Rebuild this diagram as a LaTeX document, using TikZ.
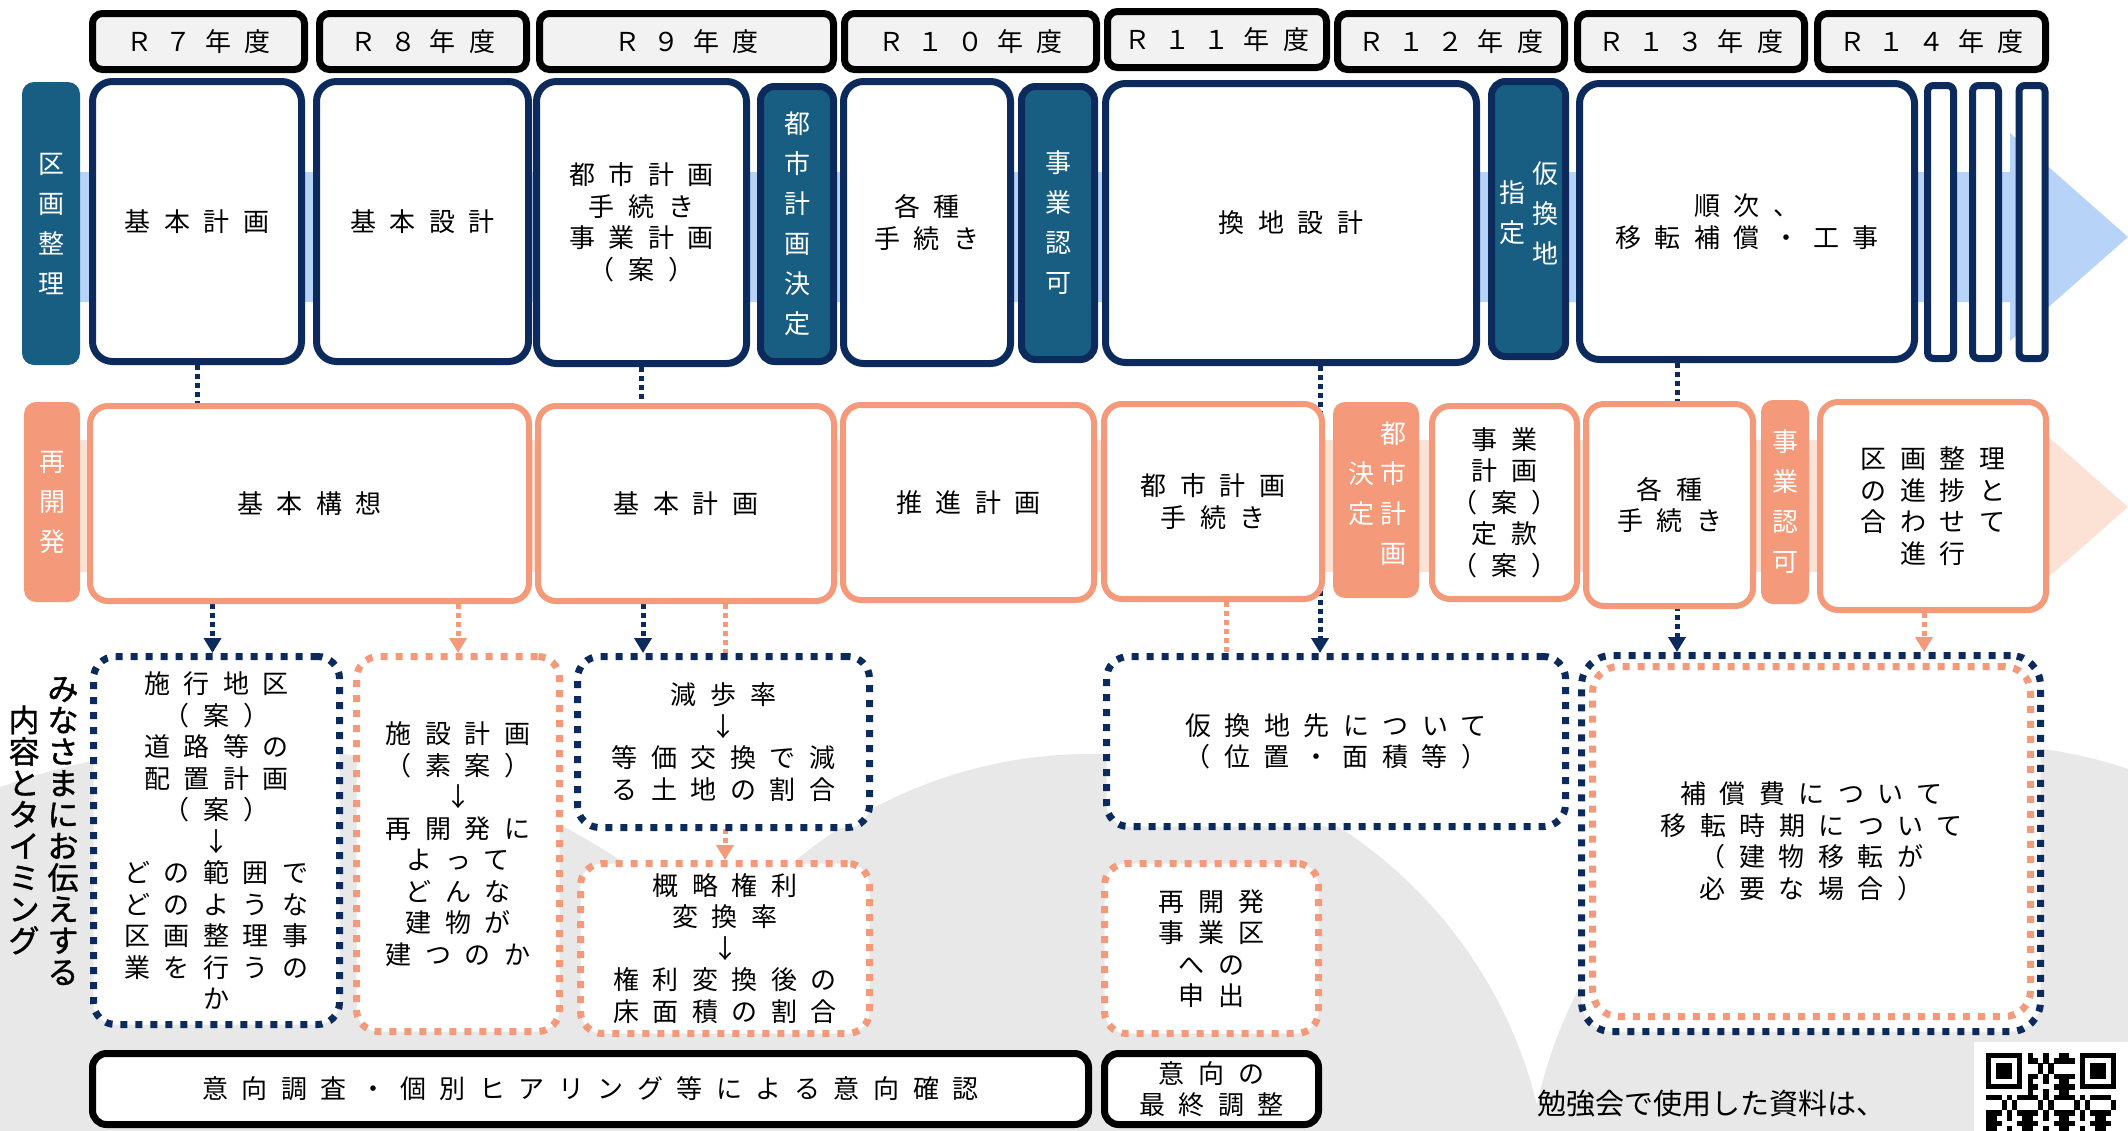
\documentclass[tikz,border=0pt]{standalone}
\usepackage{fontspec}
\usepackage{tikz}
\usetikzlibrary{arrows.meta,positioning}
\newfontfamily\jp[LetterSpace=52]{Noto Sans CJK JP}
\newfontfamily\jpflat{Noto Sans CJK JP}
\newfontfamily\jpheavy[FakeBold=1.2]{Noto Sans CJK JP}
\newcommand\bodyfont{\jp\fontsize{26}{31.5}\selectfont}
\newcommand\tatefont{\jpflat\fontsize{26}{40}\selectfont}
\newcommand\notefont{\jpflat\fontsize{29}{34}\selectfont}
\newcommand\headfont{\jpheavy\fontsize{31}{31.5}\selectfont}
\definecolor{navy}{RGB}{12, 42, 92}
\definecolor{kteal}{RGB}{24, 94, 130}
\definecolor{salmon}{RGB}{244, 153, 122}
\definecolor{skyband}{RGB}{183, 211, 247}
\definecolor{peachband}{RGB}{251, 226, 212}
\definecolor{headgrey}{RGB}{242, 242, 242}
\definecolor{bggrey}{RGB}{232, 232, 232}
\tikzstyle{year} = [draw=black, line width=7pt, fill=headgrey, rounded corners=10pt, font=\bodyfont, minimum height=56pt]
\tikzstyle{kbox} = [draw=navy, line width=7pt, fill=white, rounded corners=20pt, font=\bodyfont, align=center]
\tikzstyle{kmile} = [draw=navy, line width=7pt, fill=kteal, rounded corners=14pt, text=white, font=\tatefont, align=center]
\tikzstyle{klab} = [fill=kteal, rounded corners=12pt, text=white, font=\tatefont, align=center]
\tikzstyle{sbox} = [draw=salmon, line width=6pt, fill=white, rounded corners=18pt, font=\bodyfont, align=center]
\tikzstyle{smile} = [fill=salmon, rounded corners=12pt, text=white, font=\tatefont, align=center]
\tikzstyle{tatetext} = [text=white, font=\tatefont, align=center, inner sep=0pt]
\tikzstyle{ndot} = [draw=navy, line width=7pt, dash pattern=on 7pt off 8pt, fill=white, rounded corners=22pt, font=\bodyfont, align=center]
\tikzstyle{odot} = [draw=salmon, line width=7pt, dash pattern=on 7pt off 8pt, fill=white, rounded corners=22pt, font=\bodyfont, align=center]
\tikzstyle{talk} = [draw=black, line width=7pt, fill=white, rounded corners=14pt, font=\bodyfont, align=center]
\tikzstyle{nlink} = [draw=navy, line width=5pt, dash pattern=on 5pt off 4pt]
\tikzstyle{olink} = [draw=salmon, line width=5pt, dash pattern=on 5pt off 4pt]
\tikzstyle{narrow} = [nlink, -{Triangle[length=15pt,width=17pt]}]
\tikzstyle{oarrow} = [olink, -{Triangle[length=15pt,width=17pt]}]
\pgfdeclarelayer{links}
\pgfsetlayers{links,main}

\begin{document}
\begin{tikzpicture}[x=1pt,y=-1pt]
\useasboundingbox (0,0) rectangle (2128,1130);
\clip (0,0) rectangle (2128,1130);

% background =============================
\fill[bggrey] (237,1446) circle (700pt);
\fill[bggrey] (1090,1214) circle (460pt);
\fill[bggrey] (1982,1200) circle (455pt);
\fill[skyband] (60,172) -- (2010,172) -- (2010,133) -- (2128,237) -- (2010,341) -- (2010,302) -- (60,302) -- cycle;
\fill[peachband] (60,440) -- (2010,440) -- (2010,403) -- (2128,507) -- (2010,611) -- (2010,572) -- (60,572) -- cycle;

% years
\node[year, minimum width=212pt] (r7) at (198.5,41.5) {Ｒ７年度};
\node[year, minimum width=207pt] (r8) at (423,41.5) {Ｒ８年度};
\node[year, minimum width=294pt] (r9) at (686.5,41.5) {Ｒ９年度};
\node[year, minimum width=252pt] (r10) at (970.5,41.5) {Ｒ１０年度};
\node[year, minimum width=219pt] (r11) at (1217,39.5) {Ｒ１１年度};
\node[year, minimum width=227pt] (r12) at (1451,41.5) {Ｒ１２年度};
\node[year, minimum width=227pt] (r13) at (1691,41.5) {Ｒ１３年度};
\node[year, minimum width=228pt] (r14) at (1931.5,41.5) {Ｒ１４年度};

% kukaku seiri row
\node[klab, minimum width=58pt, minimum height=283pt] (kukakulab) at (51,223.5) {区\\画\\整\\理};
\node[kbox, minimum width=209pt, minimum height=280pt] (kkeikaku) at (197,221.5) {基本計画};
\node[kbox, minimum width=212pt, minimum height=280pt] (ksekkei) at (422.5,221.5) {基本設計};
\node[kbox, minimum width=210pt, minimum height=282pt] (toshitetsu) at (641.5,222.5) {都市計画\\手続き\\事業計画\\（案）};
\node[kmile, minimum width=73pt, minimum height=275pt] (tkettei) at (797,224) {都\\市\\計\\画\\決\\定};
\node[kbox, minimum width=167pt, minimum height=282pt] (kakushu) at (927,222.5) {各種\\手続き};
\node[kmile, minimum width=73pt, minimum height=273pt] (ninka) at (1058,223) {事\\業\\認\\可};
\node[kbox, minimum width=371pt, minimum height=279pt] (kanchi) at (1291,223) {換地設計};
\node[kmile, minimum width=74pt, minimum height=275pt] (shitei) at (1528.5,219) {};
\node[tatetext] (shitei-a) at (1545,213) {仮\\換\\地};
\node[tatetext] (shitei-b) at (1512,213) {指\\定};
\node[kbox, minimum width=335pt, minimum height=276pt] (junji) at (1747,221.5) {順次、\\移転補償・工事};
\node[kbox, rounded corners=6pt, minimum width=26pt, minimum height=273pt] (thinA) at (1940.5,222) {};
\node[kbox, rounded corners=6pt, minimum width=26pt, minimum height=273pt] (thinB) at (1985.5,222) {};
\node[kbox, rounded corners=6pt, minimum width=26pt, minimum height=273pt] (thinC) at (2032,222) {};

% saikaihatsu row
\node[smile, minimum width=56pt, minimum height=200pt] (saikailab) at (52,502) {再\\開\\発};
\node[sbox, minimum width=439pt, minimum height=195pt] (kousou) at (309.5,503.5) {基本構想};
\node[sbox, minimum width=296pt, minimum height=195pt] (skeikaku) at (686,503.5) {基本計画};
\node[sbox, minimum width=251pt, minimum height=195pt] (suishin) at (968.5,502.5) {推進計画};
\node[sbox, minimum width=218pt, minimum height=195pt] (stetsu) at (1213,501.5) {都市計画\\手続き};
\node[smile, minimum width=86pt, minimum height=196pt] (skettei) at (1376,500) {};
\node[tatetext] (skettei-a) at (1393,494) {都\\市\\計\\画};
\node[tatetext] (skettei-b) at (1361,494) {決\\定};
\node[sbox, minimum width=145pt, minimum height=193pt] (jigyou) at (1504.5,502.5) {事業\\計画\\（案）\\定款\\（案）};
\node[sbox, minimum width=167pt, minimum height=202pt] (skakushu) at (1669.5,505) {各種\\手続き};
\node[smile, minimum width=48pt, minimum height=204pt] (sninka) at (1785,502) {事\\業\\認\\可};
\node[sbox, minimum width=226pt, minimum height=208pt] (shinchoku) at (1933,506) {区画整理\\の進捗と\\合わせて\\進行};

% what we tell
\node[font=\headfont, align=center, inner sep=0pt] (tellA) at (63,831) {み\\な\\さ\\ま\\に\\お\\伝\\え\\す\\る};
\node[font=\headfont, align=center, inner sep=0pt] (tellB) at (24,830) {内\\容\\と\\タ\\イ\\ミ\\ン\\グ};
\node[ndot, minimum width=246pt, minimum height=368pt] (sekou) at (216.5,840.5) {施行地区\\（案）\\道路等の\\配置計画\\（案）\\↓\\どの範囲で\\どのような\\区画整理事\\業を行うの\\か};
\node[odot, minimum width=203pt, minimum height=375pt] (shisetsu) at (458,844) {施設計画\\（素案）\\↓\\再開発に\\よって\\どんな\\建物が\\建つのか};
\node[ndot, minimum width=292pt, minimum height=171pt] (genbu) at (723.5,742) {減歩率\\↓\\等価交換で減\\る土地の割合};
\node[odot, minimum width=289pt, minimum height=170pt] (gairyaku) at (725,948.5) {概略権利\\変換率\\↓\\権利変換後の\\床面積の割合};
\node[ndot, minimum width=459pt, minimum height=170pt] (karikan) at (1336,741.5) {仮換地先について\\（位置・面積等）};
\node[odot, minimum width=214pt, minimum height=170pt] (moushide) at (1211.5,948.5) {再開発\\事業区\\への\\申出};
\node[ndot, minimum width=459pt, minimum height=376pt, rounded corners=30pt] (hoshou) at (1811,843.5) {};
\node[odot, fill=none, minimum width=438pt, minimum height=350pt, rounded corners=26pt] (hoshoui) at (1811.5,841.5) {補償費について\\移転時期について\\（建物移転が\\必要な場合）};

% ikou
\node[talk, minimum width=996pt, minimum height=71pt] (ikou) at (590.5,1089) {意向調査・個別ヒアリング等による意向確認};
\node[talk, minimum width=214pt, minimum height=71pt] (saishu) at (1211.5,1089) {意向の\\最終調整};

% note and code
\node[font=\notefont, anchor=west, inner sep=0pt] (note) at (1537,1104) {勉強会で使用した資料は、};
\fill[white] (1974,1042) rectangle (2140,1140);
\foreach \fx in {0,18} {
  \fill[black] (1986+\fx*5.2,1053) rectangle +(36.4,36.4);
  \fill[white] (1991.2+\fx*5.2,1058.2) rectangle +(26,26);
  \fill[black] (1996.4+\fx*5.2,1063.4) rectangle +(15.6,15.6);
}
\foreach \i in {0,...,24} {
  \foreach \j in {0,...,15} {
    \pgfmathtruncatemacro\qbit{mod(\i*\i*3+\j*\j*5+\i*\j*7+\i*11+\j*3,7)}
    \pgfmathtruncatemacro\qskip{((\i<8)&&(\j<8))||((\i>16)&&(\j<8))}
    \ifnum\qskip=0 \ifnum\qbit<3 \fill[black] (1986+\i*5.2,1053+\j*5.2) rectangle +(5.3,5.3); \fi\fi
  }
}

%edges
\begin{pgfonlayer}{links}
\path[nlink] (kkeikaku.south) -- (kkeikaku.south |- kousou.north);
\path[nlink] (toshitetsu.south) -- (toshitetsu.south |- skeikaku.north);
\path[narrow] ([xshift=29pt]kanchi.south) -- ([xshift=29pt]kanchi.south |- karikan.north);
\path[narrow] ([xshift=-70pt]junji.south) -- ([xshift=-70pt]junji.south |- hoshou.north);
\path[narrow] ([xshift=-97pt]kousou.south) -- ([xshift=-97pt]kousou.south |- sekou.north);
\path[oarrow] (kousou.south -| shisetsu.north) -- (shisetsu.north);
\path[narrow] ([xshift=-43pt]skeikaku.south) -- ([xshift=-43pt]skeikaku.south |- genbu.north);
\path[oarrow] (skeikaku.south -| gairyaku.north) -- (gairyaku.north);
\path[oarrow] ([xshift=13pt]stetsu.south) -- ([xshift=13pt]stetsu.south |- moushide.north);
\path[oarrow] ([xshift=-9pt]shinchoku.south) -- ([xshift=-9pt]shinchoku.south |- hoshou.north);
\end{pgfonlayer}

\end{tikzpicture}
\end{document}
